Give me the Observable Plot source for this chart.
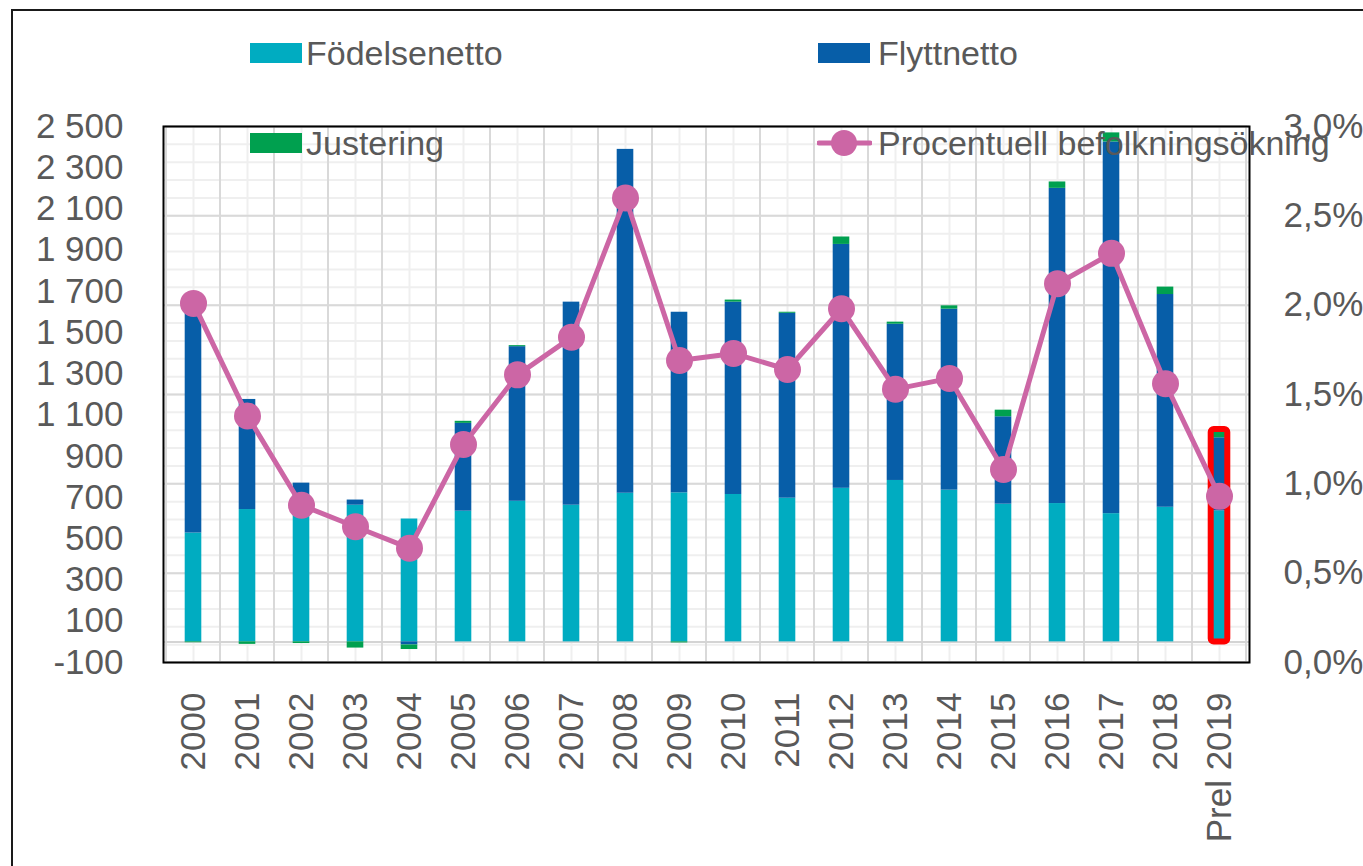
<!DOCTYPE html>
<html><head><meta charset="utf-8">
<script src="https://cdn.jsdelivr.net/npm/d3@7"></script>
<script src="https://cdn.jsdelivr.net/npm/@observablehq/plot@0.6"></script>
<style>
html,body{margin:0;padding:0;background:#fff;}
#wrap{position:relative;width:1363px;height:866px;overflow:hidden;font-family:"Liberation Sans",Arial,sans-serif;color:#595959;}
#wrap svg.plot{position:absolute;left:0;top:0;background:transparent;}
.lg{position:absolute;display:flex;align-items:center;font-size:34px;line-height:40px;height:40px;white-space:nowrap;}
.sw{display:inline-block;width:52px;height:20px;margin-right:4px;}
#border{position:absolute;left:11px;top:9px;width:1400px;height:900px;border-left:2px solid #1a1a1a;border-top:2px solid #1a1a1a;pointer-events:none;}
</style></head><body><div id="wrap"><div id="border"></div></div>
<script>
// ---- data ----
const years = ["2000","2001","2002","2003","2004","2005","2006","2007","2008","2009",
  "2010","2011","2012","2013","2014","2015","2016","2017","2018","Prel 2019"];
const fodelsenetto = [528, 642, 663, 663, 596, 634, 682, 663, 721, 723, 715, 697, 745, 783, 736, 668, 671, 622, 653, 635];
const flyttnetto   = [1082, 534, 107, 25, -15, 426, 750, 985, 1668, 876, 933, 897, 1183, 758, 878, 424, 1529, 1803, 1032, 355];
const justering    = [-4, -12, -8, -30, -22, 10, 5, 0, 0, -5, 10, 5, 36, 10, 16, 32, 31, 44, 36, 40];
const procent      = [2.01, 1.38, 0.88, 0.76, 0.64, 1.22, 1.61, 1.82, 2.60, 1.69, 1.73, 1.64, 1.98, 1.53, 1.59, 1.08, 2.12, 2.29, 1.56, 0.93];
const seriesNames  = ["Födelsenetto", "Flyttnetto", "Justering"];
const seriesColors = ["#00ACC1", "#075EA8", "#00A04F"];
const lineName = "Procentuell befolkningsökning";
const lineColor = "#CC66A5";
const leftTicks = [-100, 100, 300, 500, 700, 900, 1100, 1300, 1500, 1700, 1900, 2100, 2300, 2500];
const pctTicks = [0, 0.5, 1.0, 1.5, 2.0, 2.5, 3.0];
const highlightYear = "Prel 2019";

// ---- build ----
const Y0 = -100, Y1 = 2500, P1 = 3.0;
const toY = p => Y0 + p / P1 * (Y1 - Y0);
const fromY = y => (y - Y0) / (Y1 - Y0) * P1;

const seriesValues = [fodelsenetto, flyttnetto, justering];
const long = [];
years.forEach((yr, i) => seriesNames.forEach((s, k) => long.push({year: yr, series: s, value: seriesValues[k][i]})));
const pctData = years.map((yr, i) => ({year: yr, y: toY(procent[i])}));
const hl = years.map((yr, i) => {
  const vals = seriesValues.map(a => a[i]);
  return {year: yr, lo: d3.sum(vals.filter(v => v < 0)), hi: d3.sum(vals.filter(v => v > 0))};
}).filter(d => d.year === highlightYear);

const minorGrid = d3.range(0, 31).map(k => toY(k / 10));
const majorGrid = pctTicks.map(toY);
const fmtLeft = v => String(v).replace(/\B(?=(\d{3})+(?!\d))/g, " ");
const fmtPct = y => fromY(y).toFixed(1).replace(".", ",") + "%";

const W = 1363, H = 866;
const inset = 18.7;
const plot = Plot.plot({
  width: W, height: H,
  marginTop: 126, marginLeft: 163, marginRight: 114, marginBottom: 204,
  style: {fontFamily: "'Liberation Sans', Arial, sans-serif", fontSize: "35px", color: "#595959", background: "transparent"},
  x: {domain: years, padding: 0, axis: null},
  y: {domain: [Y0, Y1], axis: null},
  color: {domain: seriesNames, range: seriesColors},
  marks: [
    Plot.ruleY(minorGrid, {stroke: "#efefef", strokeWidth: 2}),
    Plot.ruleX(years, {stroke: "#efefef", strokeWidth: 2}),
    Plot.ruleY(majorGrid, {stroke: "#d9d9d9", strokeWidth: 2}),
    Plot.barY(years, {x: d => d, y1: Y0, y2: Y1, fill: "none", stroke: "#d9d9d9", strokeWidth: 2}),
    Plot.ruleY([0], {stroke: "#d4d4d4", strokeWidth: 2}),
    Plot.barY(long, Plot.stackY({x: "year", y: "value", fill: "series", order: seriesNames, insetLeft: inset, insetRight: inset})),
    Plot.barY(hl, {x: "year", y1: "lo", y2: "hi", fill: "none", stroke: "#FF0000", strokeWidth: 6, rx: 3, insetLeft: inset, insetRight: inset}),
    Plot.line(pctData, {x: "year", y: "y", stroke: lineColor, strokeWidth: 5}),
    Plot.dot(pctData, {x: "year", y: "y", r: 13.5, fill: lineColor, stroke: "none"}),
    Plot.frame({stroke: "#000", strokeWidth: 2}),
    Plot.axisY({anchor: "left", ticks: leftTicks, tickSize: 0, tickPadding: 40, tickFormat: fmtLeft, label: null, fontSize: 35}),
    Plot.axisY({anchor: "right", ticks: majorGrid, tickSize: 0, tickPadding: 34, tickFormat: fmtPct, label: null, fontSize: 35}),
    Plot.axisX({anchor: "bottom", tickSize: 0, tickPadding: 30, tickRotate: -90, label: null, fontSize: 35})
  ]
});
const wrap = document.getElementById("wrap");
wrap.insertBefore(plot, wrap.firstChild);

// ---- legend (HTML overlay) ----
const legendItems = [
  {label: seriesNames[0], color: seriesColors[0], left: 250, top: 33, type: "rect"},
  {label: seriesNames[1], color: seriesColors[1], left: 818, top: 33, type: "rect"},
  {label: seriesNames[2], color: seriesColors[2], left: 250, top: 123, type: "rect"},
  {label: lineName, color: lineColor, left: 817, top: 123, type: "line"}
];
legendItems.forEach(it => {
  const d = document.createElement("div");
  d.className = "lg";
  d.style.left = it.left + "px";
  d.style.top = it.top + "px";
  if (it.type === "rect") {
    const s = document.createElement("span");
    s.className = "sw";
    s.style.background = it.color;
    if (it.label === seriesNames[1]) s.style.marginRight = "8px";
    d.appendChild(s);
  } else {
    const ns = "http://www.w3.org/2000/svg";
    const svg = document.createElementNS(ns, "svg");
    svg.setAttribute("width", 55); svg.setAttribute("height", 30);
    svg.style.marginRight = "6px";
    const l = document.createElementNS(ns, "line");
    l.setAttribute("x1", 2); l.setAttribute("x2", 53); l.setAttribute("y1", 15); l.setAttribute("y2", 15);
    l.setAttribute("stroke", it.color); l.setAttribute("stroke-width", 5); l.setAttribute("stroke-linecap", "round");
    const c = document.createElementNS(ns, "circle");
    c.setAttribute("cx", 27); c.setAttribute("cy", 15); c.setAttribute("r", 13); c.setAttribute("fill", it.color);
    svg.appendChild(l); svg.appendChild(c);
    d.appendChild(svg);
  }
  const t = document.createElement("span");
  t.textContent = it.label;
  d.appendChild(t);
  wrap.appendChild(d);
});
</script>
</body></html>
